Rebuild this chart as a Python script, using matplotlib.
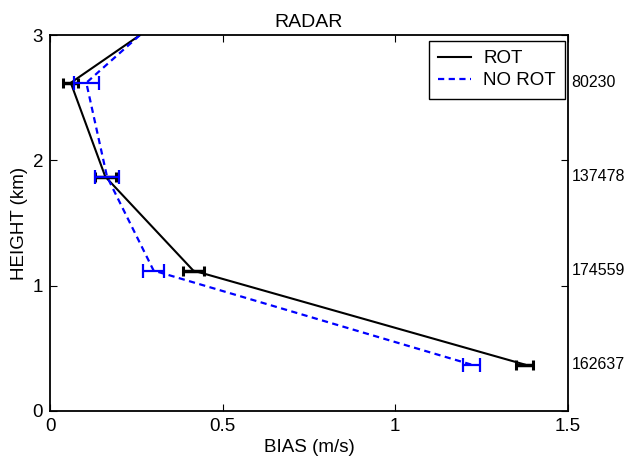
import matplotlib
matplotlib.use("Agg")
import matplotlib.pyplot as plt

plt.rcParams["font.family"] = ["Liberation Sans", "DejaVu Sans"]
plt.rcParams["font.size"] = 13.5

# heights (km) and bias (m/s); last point is the top of the profile
height = [0.37, 1.12, 1.87, 2.62, 3.0]
bias_rot = [1.375, 0.415, 0.16, 0.06, 0.26]
bias_norot = [1.22, 0.30, 0.165, 0.105, 0.26]
err_rot = [0.025, 0.03, 0.03, 0.022]
err_norot = [0.025, 0.03, 0.035, 0.036]
counts = ["162637", "174559", "137478", "80230"]

fig = plt.figure(figsize=(6.26, 4.57), dpi=100)
ax = fig.add_axes([0.08, 0.101, 0.827, 0.822])

ax.plot(bias_rot, height, "k-", lw=1.5, label="ROT")
ax.plot(bias_norot, height, color="b", ls=(0, (2.8, 2)), lw=1.6, label="NO ROT")
ax.errorbar(bias_rot[:4], height[:4], xerr=err_rot, fmt="none",
            ecolor="k", elinewidth=2.5, capsize=3.8, capthick=2.2)
ax.errorbar(bias_norot[:4], height[:4], xerr=err_norot, fmt="none",
            ecolor="b", elinewidth=1.6, capsize=4.8, capthick=1.6)

for h, c in zip(height[:4], counts):
    ax.text(1.511, h, c, va="center", ha="left", fontsize=11.5)

ax.set_xlim(0, 1.5)
ax.set_ylim(0, 3)
ax.set_xticks([0, 0.5, 1, 1.5])
ax.set_xticklabels(["0", "0.5", "1", "1.5"])
ax.set_yticks([0, 1, 2, 3])
ax.tick_params(direction="in", length=5, top=True, right=True, pad=5)
for s in ax.spines.values():
    s.set_linewidth(1.3)

ax.set_xlabel("BIAS (m/s)", labelpad=3)
ax.set_ylabel("HEIGHT (km)", labelpad=3)
ax.set_title("RADAR", fontsize=14, pad=6)
ax.legend(loc="upper right", bbox_to_anchor=(0.995, 0.985), fancybox=False,
          edgecolor="k", framealpha=1, borderaxespad=0, handlelength=1.75,
          handletextpad=0.65, labelspacing=0.25, borderpad=0.5)

fig.savefig("out.png", dpi=100)
